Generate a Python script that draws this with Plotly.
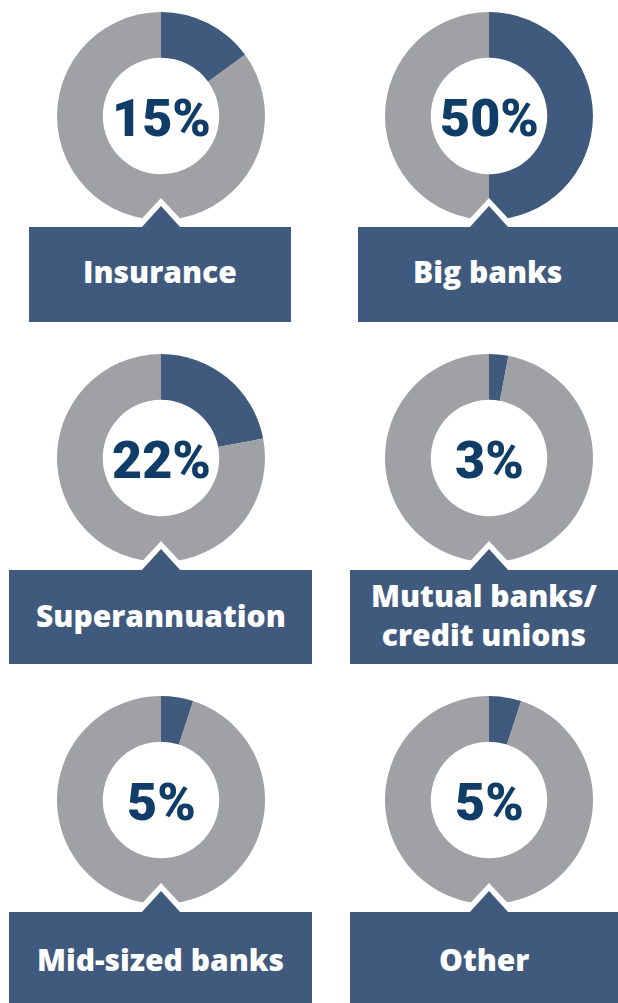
import plotly.graph_objects as go

# Share of each provider group
categories = ["Insurance", "Big banks", "Superannuation",
              "Mutual banks/<br>credit unions", "Mid-sized banks", "Other"]
shares = [15, 50, 22, 3, 5, 5]

W, H = 618, 1003
BLUE = "#405a7d"
GREY = "#a0a1a5"
DARK = "#0f3d68"

# Layout of the 2x3 grid (pixels)
col_cx = [161, 489]
row_cy = [116, 458, 800]
label_cy = [272, 615, 959]
R = 104
HOLE = 0.56
boxes = [  # (left, right, top, bottom)
    (29, 291, 227, 322), (358, 618, 227, 322),
    (9, 312, 570, 664), (350, 618, 570, 664),
    (9, 312, 912, 1003), (350, 618, 912, 1003),
]


def px(x):
    return x / W


def py(y):
    return 1 - y / H


fig = go.Figure()
shapes = []
annotations = []

for i, (cat, val) in enumerate(zip(categories, shares)):
    cx = col_cx[i % 2]
    cy = row_cy[i // 2]
    fig.add_trace(go.Pie(
        values=[val, 100 - val],
        labels=[cat.replace("<br>", " "), "Rest"],
        sort=False,
        direction="clockwise",
        rotation=0,
        hole=HOLE,
        textinfo="none",
        hoverinfo="skip",
        showlegend=False,
        marker=dict(colors=[BLUE, GREY], line=dict(width=0)),
        domain=dict(x=[px(cx - R), px(cx + R)], y=[py(cy + R), py(cy - R)]),
    ))

    left, right, top, bottom = boxes[i]
    # white outline of the pointer, then the pointer itself
    ow, oh = 27, 29
    shapes.append(dict(
        type="path", xref="paper", yref="paper",
        path=f"M {px(cx - ow)} {py(top)} L {px(cx)} {py(top - oh)} L {px(cx + ow)} {py(top)} Z",
        fillcolor="white", line=dict(width=0),
    ))
    iw, ih = 20, 21
    shapes.append(dict(
        type="path", xref="paper", yref="paper",
        path=f"M {px(cx - iw)} {py(top + 1)} L {px(cx)} {py(top - ih)} L {px(cx + iw)} {py(top + 1)} Z",
        fillcolor=BLUE, line=dict(width=0),
    ))
    shapes.append(dict(
        type="rect", xref="paper", yref="paper",
        x0=px(left), x1=px(right), y0=py(bottom), y1=py(top),
        fillcolor=BLUE, line=dict(width=0),
    ))

    annotations.append(dict(
        x=px(cx), y=py(cy + 2), xref="paper", yref="paper",
        text=f"{val}%", showarrow=False,
        xanchor="center", yanchor="middle",
        font=dict(family="Roboto", size=52, color=DARK, weight=900),
    ))
    annotations.append(dict(
        x=px((left + right) / 2), y=py(label_cy[i // 2]), xref="paper", yref="paper",
        text=cat, showarrow=False,
        xanchor="center", yanchor="middle",
        font=dict(family="Open Sans", size=30, color="white", weight=800),
    ))

fig.update_layout(
    width=W, height=H,
    margin=dict(l=0, r=0, t=0, b=0),
    paper_bgcolor="white",
    plot_bgcolor="white",
    shapes=shapes,
    annotations=annotations,
)

fig.write_html("out.html")
